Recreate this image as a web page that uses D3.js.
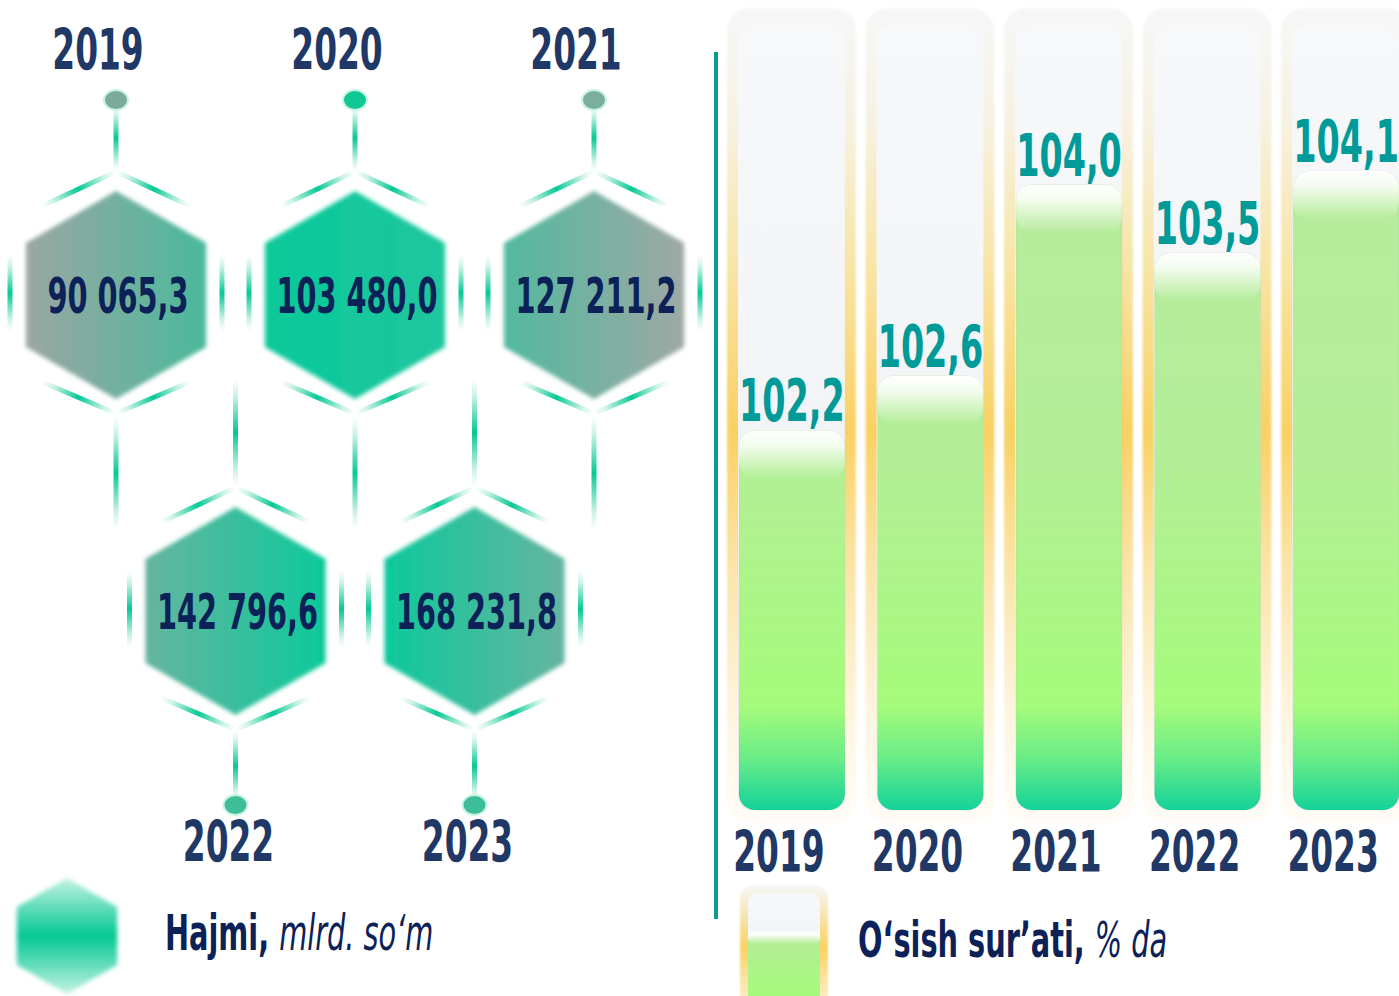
<!DOCTYPE html>
<html>
<head>
<meta charset="utf-8">
<script src="https://cdn.jsdelivr.net/npm/d3@7"></script>
<style>
  html, body { margin: 0; padding: 0; background: #fff; }
  svg { display: block; }
  text { font-family: 'DejaVu Sans Condensed', 'DejaVu Sans', sans-serif; }
</style>
</head>
<body>
<div id="root"></div>
<script>
// data
const years = ['2019', '2020', '2021', '2022', '2023'];
const volumeValues = [90065.3, 103480.0, 127211.2, 142796.6, 168231.8];
const growthValues = [102.2, 102.6, 104.0, 103.5, 104.1];
const legendVolume = ['Hajmi, ', 'mlrd. soʻm'];
const legendGrowth = ['Oʻsish surʼati, ', '% da'];

// honeycomb layout: column slot and row of each year
const hexSlot = [0, 2, 4, 1, 3];
const hexRow = [0, 0, 0, 1, 1];
const hexColors = [
  ['#9ca6a3', '#4ab99b'],
  ['#07c999', '#20c79e'],
  ['#52b99e', '#9ea8a5'],
  ['#66b4a0', '#0dc99a'],
  ['#0dc99a', '#66b4a0'],
];
const dotColors = ['#7aab9c', '#10c896', '#7aae9f', '#3dbd98', '#3dbd98'];

const W = 1399, H = 996;
const SQ = 0.64; // horizontal squeeze to get a condensed face
const navy = '#0c2158', yearBlue = '#1f3866', teal = '#009a98';

const uz = d3.formatLocale({ decimal: ',', thousands: ' ', grouping: [3], currency: ['', ''] });
const fmtVol = uz.format(',.1f');
const fmtPct = uz.format('.1f');

const svg = d3.select('#root').append('svg')
  .attr('width', W).attr('height', H)
  .attr('viewBox', `0 0 ${W} ${H}`);
const defs = svg.append('defs');

function linGrad(id, stops, attrs = {}) {
  const g = defs.append('linearGradient').attr('id', id);
  Object.entries(attrs).forEach(([k, v]) => g.attr(k, v));
  stops.forEach(([o, c, op]) => g.append('stop')
    .attr('offset', o).attr('stop-color', c).attr('stop-opacity', op === undefined ? 1 : op));
  return g;
}

function blur(id, sd) {
  defs.append('filter').attr('id', id)
    .attr('x', '-20%').attr('y', '-20%').attr('width', '140%').attr('height', '140%')
    .append('feGaussianBlur').attr('stdDeviation', sd);
}
blur('soft', 2.2);
blur('softer', 0.8);

linGrad('segGrad', [[0, '#ffffff'], [0.15, '#cdf3e6'], [0.5, '#05c995'], [0.85, '#cdf3e6'], [1, '#ffffff']]);
hexColors.forEach((c, i) => linGrad(`hex${i}`, [[0, c[0]], [1, c[1]]]));
linGrad('legendHex', [[0, '#c4f2e3'], [0.5, '#03c893'], [1, '#c4f2e3']], { x1: 0, y1: 0, x2: 0, y2: 1 });
linGrad('trackGrad', [[0, '#f6f7f8'], [0.15, '#f7f1df'], [0.32, '#f8e4a4'], [0.52, '#f9d163'], [0.68, '#fbe3a6'], [0.86, '#fef4de'], [1, '#fffdf8']],
  { x1: 0, y1: 0, x2: 0, y2: 1 });
linGrad('innerGrad', [[0, '#f6f8fa'], [1, '#eef0f3']], { x1: 0, y1: 0, x2: 0, y2: 1 });
linGrad('barGrad', [[0, '#b8eb9e'], [0.45, '#b4ee98'], [0.84, '#a6fb7b'], [0.92, '#68ec87'], [1, '#10d29a']],
  { gradientUnits: 'userSpaceOnUse', x1: 0, y1: 150, x2: 0, y2: 812 });
linGrad('shine', [[0, '#ffffff', 1], [0.3, '#ffffff', 0.85], [1, '#ffffff', 0]], { x1: 0, y1: 0, x2: 0, y2: 1 });
linGrad('legendTrack', [[0, '#f6f7f8'], [0.5, '#f9d163'], [1, '#fef3dc']], { x1: 0, y1: 0, x2: 0, y2: 1 });
linGrad('legendBar', [[0, '#b5eb9b'], [0.8, '#a6fb7b'], [1, '#7bef85']], { x1: 0, y1: 0, x2: 0, y2: 1 });

// squeezed text helper
function label(g, x, y, parts, opts) {
  const t = g.append('text')
    .attr('transform', `translate(${x},${y}) scale(${SQ},1)`)
    .attr('text-anchor', opts.anchor || 'middle')
    .attr('font-size', opts.size)
    .attr('fill', opts.fill);
  parts.forEach(p => t.append('tspan')
    .attr('font-weight', p.weight || 'bold')
    .attr('font-style', p.style || 'normal')
    .text(p.text));
  return t;
}

// straight connector drawn as a thin rect so the gradient follows it
function seg(g, x1, y1, x2, y2, w = 5) {
  const len = Math.hypot(x2 - x1, y2 - y1);
  const ang = Math.atan2(y2 - y1, x2 - x1) * 180 / Math.PI;
  g.append('rect')
    .attr('x', 0).attr('y', -w / 2).attr('width', len).attr('height', w)
    .attr('transform', `translate(${x1},${y1}) rotate(${ang})`)
    .attr('fill', 'url(#segGrad)');
}

function hexPath(r) {
  const pts = d3.range(6).map(k => {
    const a = (-90 + 60 * k) * Math.PI / 180;
    return [r * Math.cos(a), r * Math.sin(a)];
  });
  return d3.line()(pts) + 'Z';
}

/* ---------- left: honeycomb ---------- */
const hexX = d3.scalePoint().domain(d3.range(5)).range([116, 594]);
const hexY = d3.scalePoint().domain([0, 1]).range([295, 611]);
const R = 104;
const left = svg.append('g').attr('id', 'hexGroup');

years.forEach((yr, i) => {
  const cx = hexX(hexSlot[i]);
  const cy = hexY(hexRow[i]);
  const g = left.append('g');

  // chevrons and side bars
  seg(g, cx - 74, cy - 89, cx - 1, cy - 123);
  seg(g, cx + 1, cy - 123, cx + 74, cy - 89);
  seg(g, cx - 74, cy + 87, cx - 1, cy + 118);
  seg(g, cx + 1, cy + 118, cx + 74, cy + 87);
  seg(g, cx - 106, cy - 40, cx - 106, cy + 36);
  seg(g, cx + 106, cy - 40, cx + 106, cy + 36);

  if (hexRow[i] === 0) {
    seg(g, cx, cy - 190, cx, cy - 124);
    seg(g, cx, cy + 122, cx, cy + 234);
    g.append('ellipse').attr('cx', cx).attr('cy', cy - 195).attr('rx', 12).attr('ry', 10)
      .attr('fill', dotColors[i]).attr('stroke', '#c9f3e4').attr('stroke-width', 2);
    label(g, cx - 18, cy - 225, [{ text: yr }], { size: 57, fill: yearBlue });
  } else {
    seg(g, cx, cy - 232, cx, cy - 125);
    seg(g, cx, cy + 120, cx, cy + 190);
    g.append('ellipse').attr('cx', cx).attr('cy', cy + 194).attr('rx', 12).attr('ry', 10)
      .attr('fill', dotColors[i]).attr('stroke', '#c9f3e4').attr('stroke-width', 2);
    label(g, cx - 7, cy + 251, [{ text: yr }], { size: 57, fill: yearBlue });
  }

  g.append('path')
    .attr('d', hexPath(R))
    .attr('transform', `translate(${cx},${cy})`)
    .attr('fill', `url(#hex${i})`)
    .attr('filter', 'url(#soft)');

  label(g, cx + 2, cy + 18, [{ text: fmtVol(volumeValues[i]) }], { size: 50, fill: navy });
});

/* ---------- right: growth bars ---------- */
const right = svg.append('g').attr('id', 'barGroup');
right.append('line')
  .attr('x1', 716).attr('x2', 716).attr('y1', 52).attr('y2', 919)
  .attr('stroke', '#0b9b94').attr('stroke-width', 4);

const x = d3.scaleBand().domain(years).range([727, 1410]).paddingInner(0.07);
const y = d3.scaleLinear().domain([100, 105]).range([731, 48]);
const bw = x.bandwidth();
const base = 810;

const cols = right.selectAll('g.col')
  .data(years.map((yr, i) => ({ yr, v: growthValues[i] })))
  .join('g').attr('class', 'col');

cols.append('rect')
  .attr('x', d => x(d.yr)).attr('y', 8)
  .attr('width', bw).attr('height', 815).attr('rx', 22)
  .attr('fill', 'url(#trackGrad)').attr('filter', 'url(#softer)');
cols.append('rect')
  .attr('x', d => x(d.yr) + 11).attr('y', 25)
  .attr('width', bw - 22).attr('height', 785).attr('rx', 14)
  .attr('fill', 'url(#innerGrad)');
cols.append('rect')
  .attr('x', d => x(d.yr) + 12).attr('y', d => y(d.v))
  .attr('width', bw - 23).attr('height', d => base - y(d.v)).attr('rx', 16)
  .attr('fill', 'url(#barGrad)')
  .attr('stroke', 'rgba(0,0,0,0.05)').attr('stroke-width', 1);
cols.append('rect')
  .attr('x', d => x(d.yr) + 12).attr('y', d => y(d.v))
  .attr('width', bw - 23).attr('height', 48).attr('rx', 16)
  .attr('fill', 'url(#shine)');

cols.each(function (d) {
  const g = d3.select(this);
  const cx = x(d.yr) + 12 + (bw - 23) / 2;
  label(g, cx, y(d.v) - 9, [{ text: fmtPct(d.v) }], { size: 58, fill: teal });
  label(g, cx - 13, 872, [{ text: d.yr }], { size: 57, fill: yearBlue });
});

/* ---------- legends ---------- */
const legend = svg.append('g').attr('id', 'legendGroup');
legend.append('path')
  .attr('d', hexPath(58))
  .attr('transform', 'translate(67,936)')
  .attr('fill', 'url(#legendHex)')
  .attr('filter', 'url(#soft)');
label(legend, 165, 950, [
  { text: legendVolume[0] },
  { text: legendVolume[1], weight: 'normal', style: 'italic' },
], { size: 50, fill: navy, anchor: 'start' });

legend.append('rect')
  .attr('x', 740).attr('y', 885).attr('width', 88).attr('height', 125).attr('rx', 14)
  .attr('fill', 'url(#legendTrack)').attr('filter', 'url(#softer)');
legend.append('rect')
  .attr('x', 748).attr('y', 893).attr('width', 72).attr('height', 110).attr('rx', 9)
  .attr('fill', 'url(#innerGrad)');
legend.append('rect')
  .attr('x', 748).attr('y', 932).attr('width', 72).attr('height', 80).attr('rx', 9)
  .attr('fill', 'url(#legendBar)');
legend.append('rect')
  .attr('x', 748).attr('y', 932).attr('width', 72).attr('height', 12).attr('rx', 6)
  .attr('fill', 'url(#shine)');
label(legend, 858, 957, [
  { text: legendGrowth[0] },
  { text: legendGrowth[1], weight: 'normal', style: 'italic' },
], { size: 50, fill: navy, anchor: 'start' });
</script>
</body>
</html>
